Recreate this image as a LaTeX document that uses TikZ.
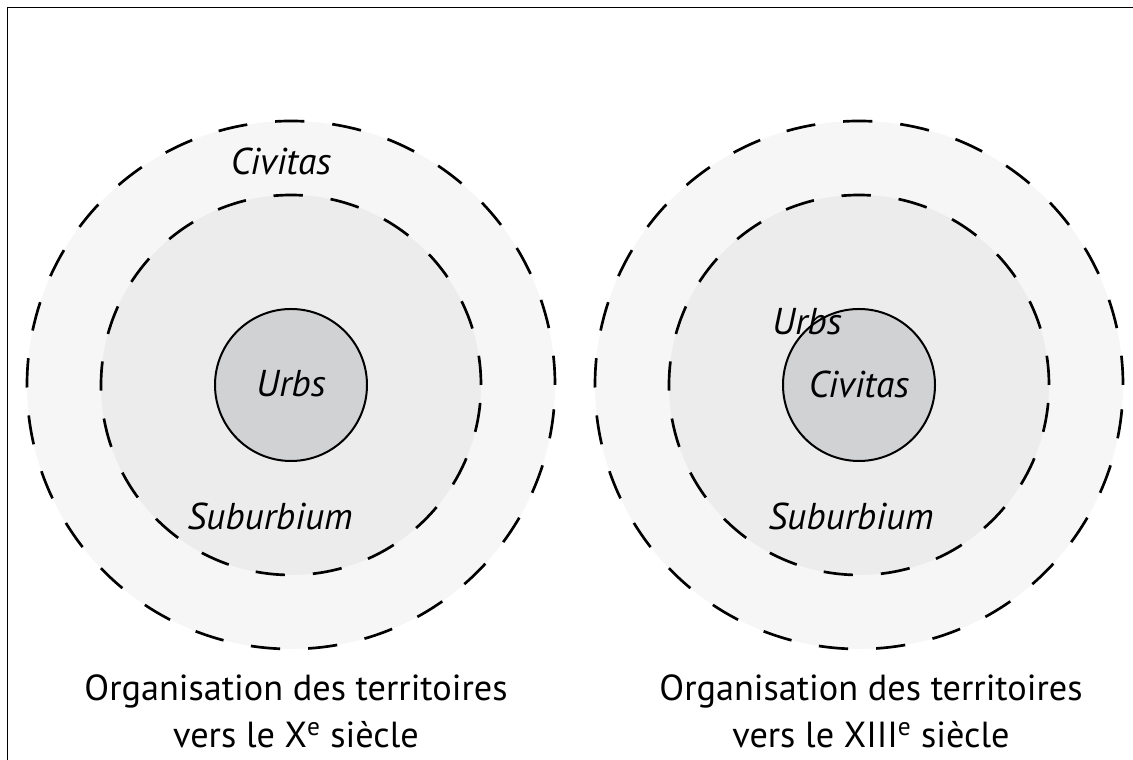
\documentclass[tikz,border=0pt]{standalone}
\usepackage{fontspec}
\setmainfont{PT Sans}
\definecolor{ringout}{RGB}{246,246,246}
\definecolor{ringmid}{RGB}{236,236,236}
\definecolor{core}{RGB}{209,210,212}
\tikzset{
  ringouter/.style={circle, draw, fill=ringout, line width=2pt, dash pattern=on 22pt off 21pt, minimum size=396pt, inner sep=0pt},
  ringmiddle/.style={circle, draw, fill=ringmid, line width=2pt, dash pattern=on 22pt off 21pt, minimum size=285pt, inner sep=0pt},
  ringinner/.style={circle, draw, fill=core, line width=1.5pt, minimum size=114pt, inner sep=0pt},
  lbl/.style={font=\fontsize{28}{32}\selectfont\itshape, anchor=base, inner sep=0pt},
  captxt/.style={font=\fontsize{27.2}{32}\selectfont, anchor=base, inner sep=0pt}
}
\begin{document}
\begin{tikzpicture}[x=0.75pt, y=0.75pt]
  \useasboundingbox (0,0) rectangle (1133,760);
  \draw [line width=0.75pt] (7.5,0) -- (7.5,752) -- (1133,752);
  % X siecle
  \node [ringouter] (outL) at (291,375) {};
  \node [ringmiddle] (midL) at (291,375) {};
  \node [ringinner] (inL) at (291,375) {};
  \node [lbl] (civL) at (281,585) {Civitas};
  \node [lbl] (urbL) at (291,363) {Urbs};
  \node [lbl] (subL) at (270,230) {Suburbium};
  \node [captxt] (capL1) at (296,59) {Organisation des territoires};
  \node [captxt] (capL2) at (296,12) {vers le X\textsuperscript{e} siècle};
  % XIII siecle
  \node [ringouter] (outR) at (859,375) {};
  \node [ringmiddle] (midR) at (859,375) {};
  \node [ringinner] (inR) at (859,375) {};
  \node [lbl] (urbR) at (807,425) {Urbs};
  \node [lbl] (civR) at (859,362) {Civitas};
  \node [lbl] (subR) at (851,230) {Suburbium};
  \node [captxt] (capR1) at (871,59) {Organisation des territoires};
  \node [captxt] (capR2) at (871,12) {vers le XIII\textsuperscript{e} siècle};
\end{tikzpicture}
\end{document}
